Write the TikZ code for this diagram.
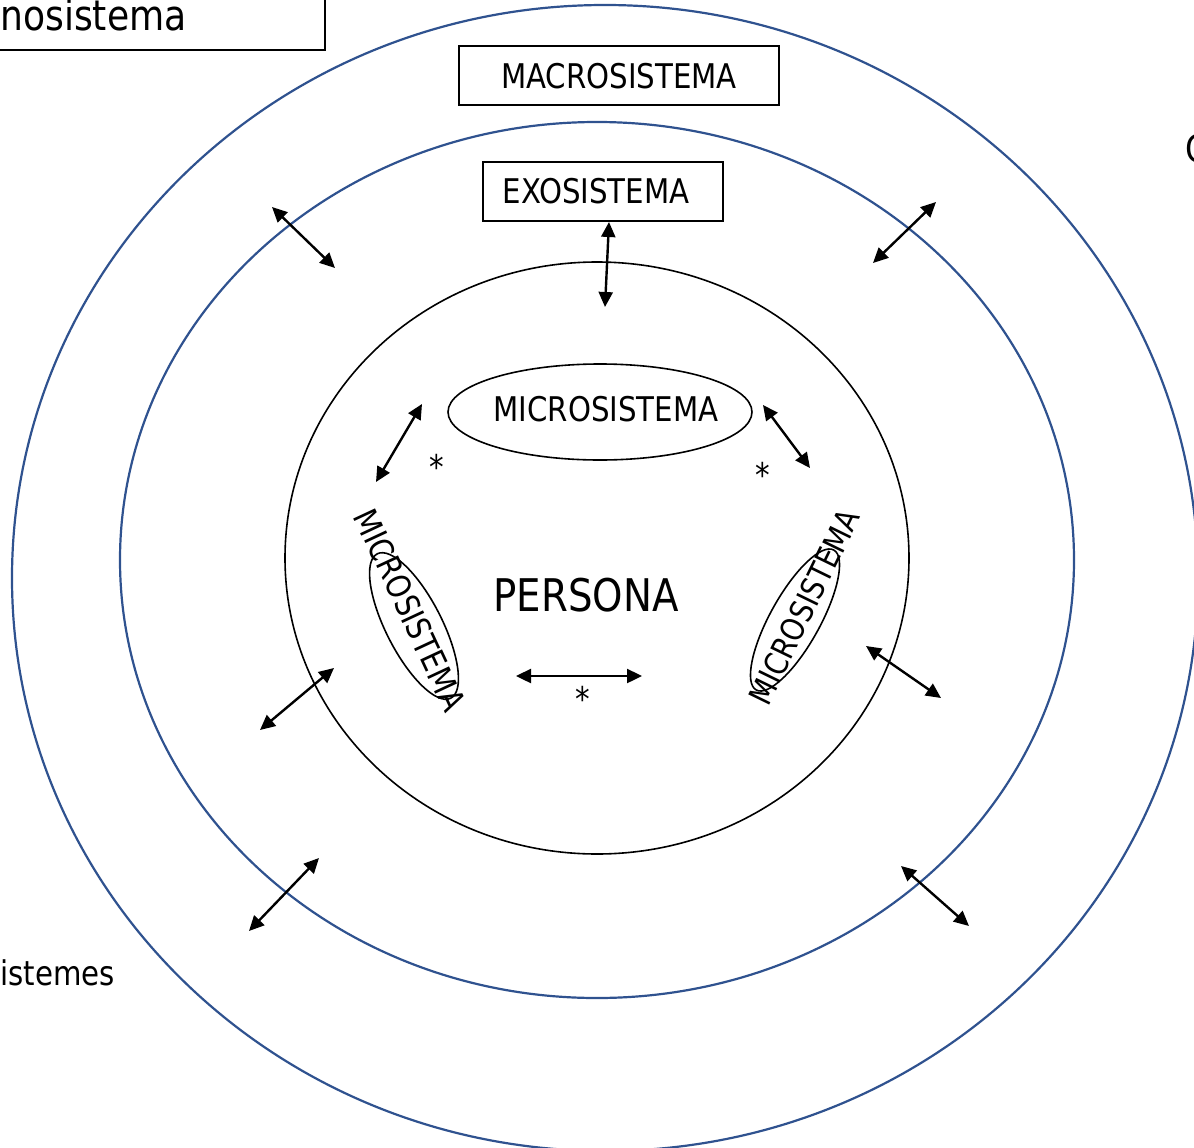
\documentclass[tikz,border=0pt]{standalone}
\usepackage{fontspec}
\setmainfont{DejaVu Sans}[FakeStretch=0.86]
\usetikzlibrary{arrows.meta,shapes.geometric}
\definecolor{ringblue}{RGB}{47,82,143}
\tikzset{
  ring/.style={draw=ringblue,line width=2.2pt},
  inner/.style={draw=black,line width=1.6pt},
  lbox/.style={draw=black,line width=1.6pt,rectangle,inner sep=0pt},
  dbl/.style={line width=2.4pt,{Triangle[length=15pt,width=14pt]}-{Triangle[length=15pt,width=14pt]}},
  lab/.style={inner sep=0pt,font=\fontsize{34}{34}\selectfont},
  star/.style={inner sep=0pt,font=\fontsize{34}{34}\selectfont},
}
\begin{document}
\begin{tikzpicture}[x=1pt,y=-1pt]
\useasboundingbox (0,0) rectangle (1194,1148);
\clip (0,0) rectangle (1194,1148);
% rings
\draw[ring] (605,578) ellipse [x radius=593,y radius=573];
\draw[ring] (597,560) ellipse [x radius=477,y radius=438];
\draw[inner] (597,558) ellipse [x radius=312,y radius=296];
% boxes
\node[lbox,minimum width=345,minimum height=70] (topbox) at (152.5,15) {};
\node[lab,anchor=base west,font=\fontsize{42}{42}\selectfont] (toptxt) at (0,31) {nosistema};
\node[lbox,minimum width=320,minimum height=59] (macro) at (619,75.5) {};
\node[lab] (macrot) at (619,76) {MACROSISTEMA};
\node[lbox,minimum width=240,minimum height=59] (exo) at (603,191.5) {};
\node[lab] (exot) at (596,191) {EXOSISTEMA};
\node[lab,anchor=base west,font=\fontsize{38}{38}\selectfont] (cright) at (1185,162) {C};
\node[lab,anchor=base west,font=\fontsize{34}{34}\selectfont] (istemes) at (0,985) {istemes};
% microsystems
\node[inner,ellipse,minimum width=304,minimum height=96] (micT) at (600,412) {};
\node[lab] (micTt) at (606,409) {MICROSISTEMA};
\node[inner,ellipse,minimum width=162,minimum height=56,rotate=-63] (micL) at (414,626) {};
\node[lab,rotate=-65,font=\fontsize{33}{33}\selectfont] (micLt) at (410,610) {MICROSISTEMA};
\node[inner,ellipse,minimum width=160,minimum height=50,rotate=61] (micR) at (795,620) {};
\node[lab,rotate=64,font=\fontsize{32}{32}\selectfont] (micRt) at (804,607) {MICROSISTEMA};
\node[lab,font=\fontsize{45}{45}\selectfont] (persona) at (586,595) {PERSONA};
% asterisks
\node[star] (s1) at (437,467) {*};
\node[star] (s2) at (763,475) {*};
\node[star] (s3) at (583,699) {*};
% arrow endpoints
\coordinate (a1) at (272,207); \coordinate (b1) at (335,268);
\coordinate (a2) at (936,202); \coordinate (b2) at (873,263);
\coordinate (a3) at (609,222); \coordinate (b3) at (605,307);
\coordinate (a4) at (422,404); \coordinate (b4) at (376,482);
\coordinate (a5) at (763,405); \coordinate (b5) at (810,468);
\coordinate (a6) at (516,676); \coordinate (b6) at (642,676);
\coordinate (a7) at (334,668); \coordinate (b7) at (260,730);
\coordinate (a8) at (866,646); \coordinate (b8) at (941,698);
\coordinate (a9) at (319,858); \coordinate (b9) at (249,931);
\coordinate (a10) at (901,866); \coordinate (b10) at (969,926);
\foreach \i in {1,...,10} { \draw[dbl] (a\i) -- (b\i); }
\end{tikzpicture}
\end{document}
